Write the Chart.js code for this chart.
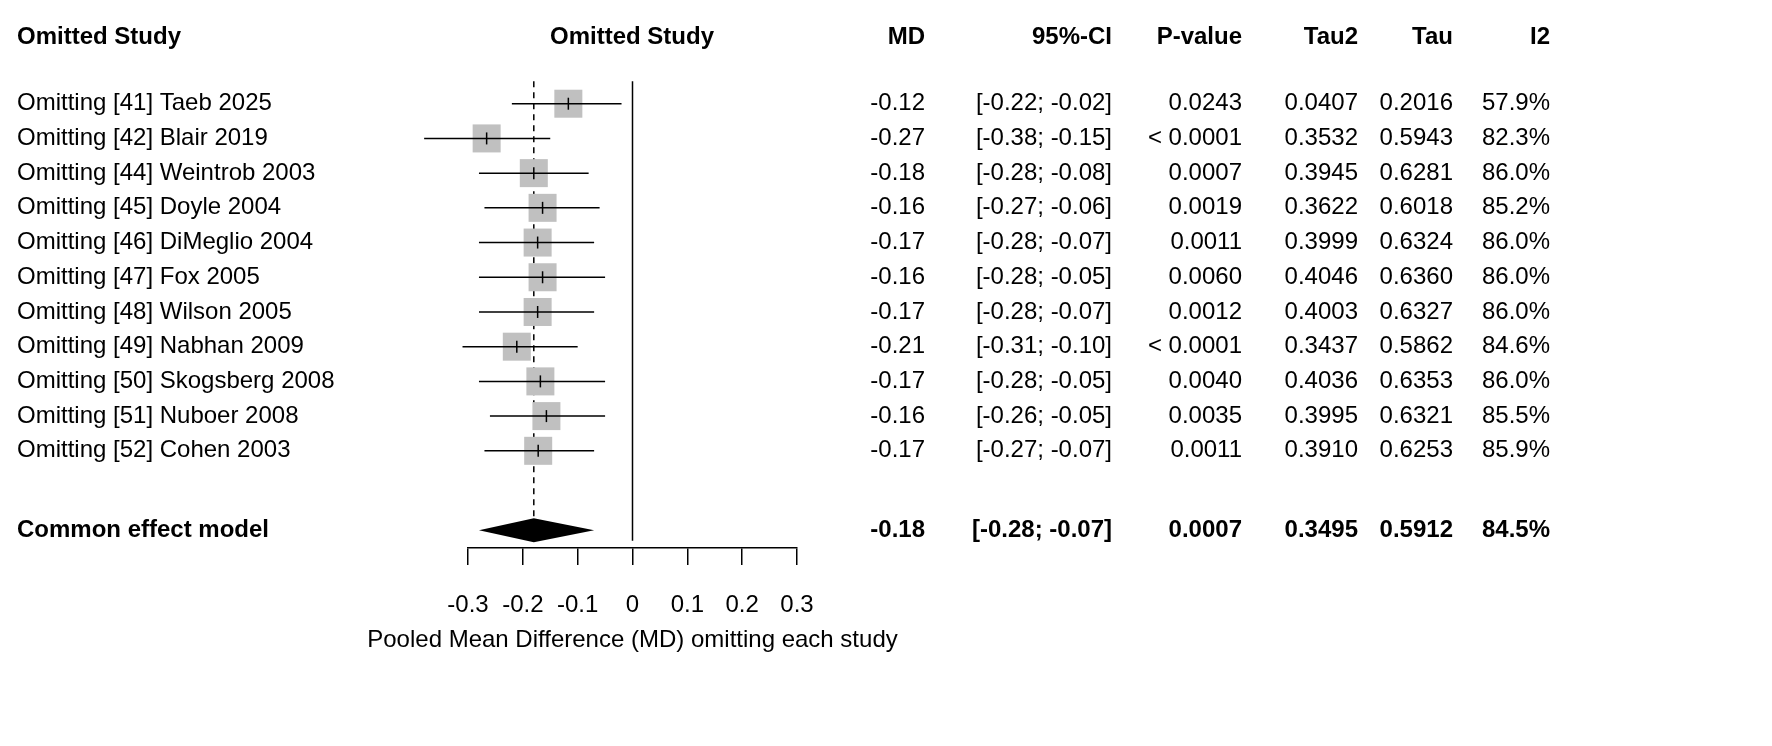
<!DOCTYPE html>
<html><head><meta charset="utf-8">
<script src="https://cdn.jsdelivr.net/npm/chart.js@4"></script>
<style>html,body{margin:0;padding:0;background:#fff}#w{width:1772px;height:746px}</style>
</head><body><div id="w"><canvas id="c"></canvas></div>
<script>
const studies=["Omitting [41] Taeb 2025","Omitting [42] Blair 2019","Omitting [44] Weintrob 2003","Omitting [45] Doyle 2004","Omitting [46] DiMeglio 2004","Omitting [47] Fox 2005","Omitting [48] Wilson 2005","Omitting [49] Nabhan 2009","Omitting [50] Skogsberg 2008","Omitting [51] Nuboer 2008","Omitting [52] Cohen 2003"];
const md=[-0.117,-0.266,-0.180,-0.164,-0.173,-0.164,-0.173,-0.211,-0.168,-0.157,-0.172];
const lo=[-0.22,-0.38,-0.28,-0.27,-0.28,-0.28,-0.28,-0.31,-0.28,-0.26,-0.27];
const hi=[-0.02,-0.15,-0.08,-0.06,-0.07,-0.05,-0.07,-0.10,-0.05,-0.05,-0.07];
const boxSize=[28,28,28,28,28,28,28,28,28,28,28];
const mdTxt=["-0.12","-0.27","-0.18","-0.16","-0.17","-0.16","-0.17","-0.21","-0.17","-0.16","-0.17"];
const ciTxt=["[-0.22; -0.02]","[-0.38; -0.15]","[-0.28; -0.08]","[-0.27; -0.06]","[-0.28; -0.07]","[-0.28; -0.05]","[-0.28; -0.07]","[-0.31; -0.10]","[-0.28; -0.05]","[-0.26; -0.05]","[-0.27; -0.07]"];
const pTxt=["0.0243","< 0.0001","0.0007","0.0019","0.0011","0.0060","0.0012","< 0.0001","0.0040","0.0035","0.0011"];
const tau2Txt=["0.0407","0.3532","0.3945","0.3622","0.3999","0.4046","0.4003","0.3437","0.4036","0.3995","0.3910"];
const tauTxt=["0.2016","0.5943","0.6281","0.6018","0.6324","0.6360","0.6327","0.5862","0.6353","0.6321","0.6253"];
const i2Txt=["57.9%","82.3%","86.0%","85.2%","86.0%","86.0%","86.0%","84.6%","86.0%","85.5%","85.9%"];
const pooled={label:"Common effect model",md:-0.18,lo:-0.28,hi:-0.07,mdTxt:"-0.18",ci:"[-0.28; -0.07]",p:"0.0007",tau2:"0.3495",tau:"0.5912",i2:"84.5%"};
const headers=["MD","95%-CI","P-value","Tau2","Tau","I2"];
const colX=[925,1112,1242,1358,1453,1550];
const xTicks=[-0.3,-0.2,-0.1,0,0.1,0.2,0.3];
const xTitle='Pooled Mean Difference (MD) omitting each study';
const FONT='"Liberation Sans", Arial, sans-serif';
const rowsY=studies.map((s,i)=>i+1);
const pooledY=13.29;

const plug={id:'forest',afterDatasetsDraw(ch){
 const c=ch.ctx,x=ch.scales.x,y=ch.scales.y;
 c.save();
 c.strokeStyle='#000';c.lineWidth=1.5;
 c.beginPath();c.moveTo(x.getPixelForValue(0),y.getPixelForValue(0.35));c.lineTo(x.getPixelForValue(0),y.getPixelForValue(pooledY+0.3));c.stroke();
 c.setLineDash([6,5]);
 c.beginPath();c.moveTo(x.getPixelForValue(pooled.md),y.getPixelForValue(0.35));c.lineTo(x.getPixelForValue(pooled.md),y.getPixelForValue(pooledY-0.3));c.stroke();
 c.setLineDash([]);
 studies.forEach((s,i)=>{
  const py=y.getPixelForValue(rowsY[i]),px=x.getPixelForValue(md[i]);
  c.fillStyle='#c0c0c0';const b=boxSize[i];c.fillRect(px-b/2,py-b/2,b,b);
  c.strokeStyle='#000';c.lineWidth=1.5;
  c.beginPath();c.moveTo(x.getPixelForValue(lo[i]),py);c.lineTo(x.getPixelForValue(hi[i]),py);c.stroke();
  c.beginPath();c.moveTo(px,py-6);c.lineTo(px,py+6);c.stroke();
 });
 const dy=y.getPixelForValue(pooledY);
 c.fillStyle='#000';c.beginPath();
 c.moveTo(x.getPixelForValue(pooled.lo),dy);c.lineTo(x.getPixelForValue(pooled.md),dy-12);
 c.lineTo(x.getPixelForValue(pooled.hi),dy);c.lineTo(x.getPixelForValue(pooled.md),dy+12);c.closePath();c.fill();
 c.textBaseline='middle';c.fillStyle='#000';
 c.font='bold 24px '+FONT;c.textAlign='left';c.fillText('Omitted Study',17,37);
 c.textAlign='center';c.fillText('Omitted Study',632,37);
 c.textAlign='right';headers.forEach((h,k)=>c.fillText(h,colX[k],37));
 c.font='24px '+FONT;
 studies.forEach((s,i)=>{
  const py=y.getPixelForValue(rowsY[i]);
  c.textAlign='left';c.fillText(s,17,py);
  c.textAlign='right';
  [mdTxt[i],ciTxt[i],pTxt[i],tau2Txt[i],tauTxt[i],i2Txt[i]].forEach((t,k)=>c.fillText(t,colX[k],py));
 });
 c.font='bold 24px '+FONT;c.textAlign='left';c.fillText(pooled.label,17,dy);
 c.textAlign='right';[pooled.mdTxt,pooled.ci,pooled.p,pooled.tau2,pooled.tau,pooled.i2].forEach((t,k)=>c.fillText(t,colX[k],dy));
 c.font='24px '+FONT;c.textAlign='center';
 c.fillText(xTitle,x.getPixelForValue(0),640);
 c.restore();
}};

new Chart(document.getElementById('c'),{type:'scatter',
 data:{datasets:[{data:md.map((v,i)=>({x:v,y:rowsY[i]})),pointRadius:0}]},
 options:{responsive:true,maintainAspectRatio:false,animation:false,devicePixelRatio:1,
  layout:{padding:{left:468,right:975,top:69,bottom:0}},
  plugins:{legend:{display:false},tooltip:{enabled:false}},
  scales:{
   x:{min:-0.3,max:0.3,afterBuildTicks:a=>{a.ticks=xTicks.map(v=>({value:v}));},
     afterFit:s=>{s.height=198;},
     grid:{display:true,drawOnChartArea:false,drawTicks:true,tickLength:17,color:'#000',lineWidth:1.5},
     border:{display:true,color:'#000',width:1.5},
     ticks:{color:'#000',font:{family:FONT,size:24},padding:26,maxRotation:0,autoSkip:false,callback:v=>String(Math.round(v*10)/10)},
     title:{display:false}},
   y:{display:false,min:0,max:13.8,reverse:true}
  }},
 plugins:[plug]});
</script></body></html>
